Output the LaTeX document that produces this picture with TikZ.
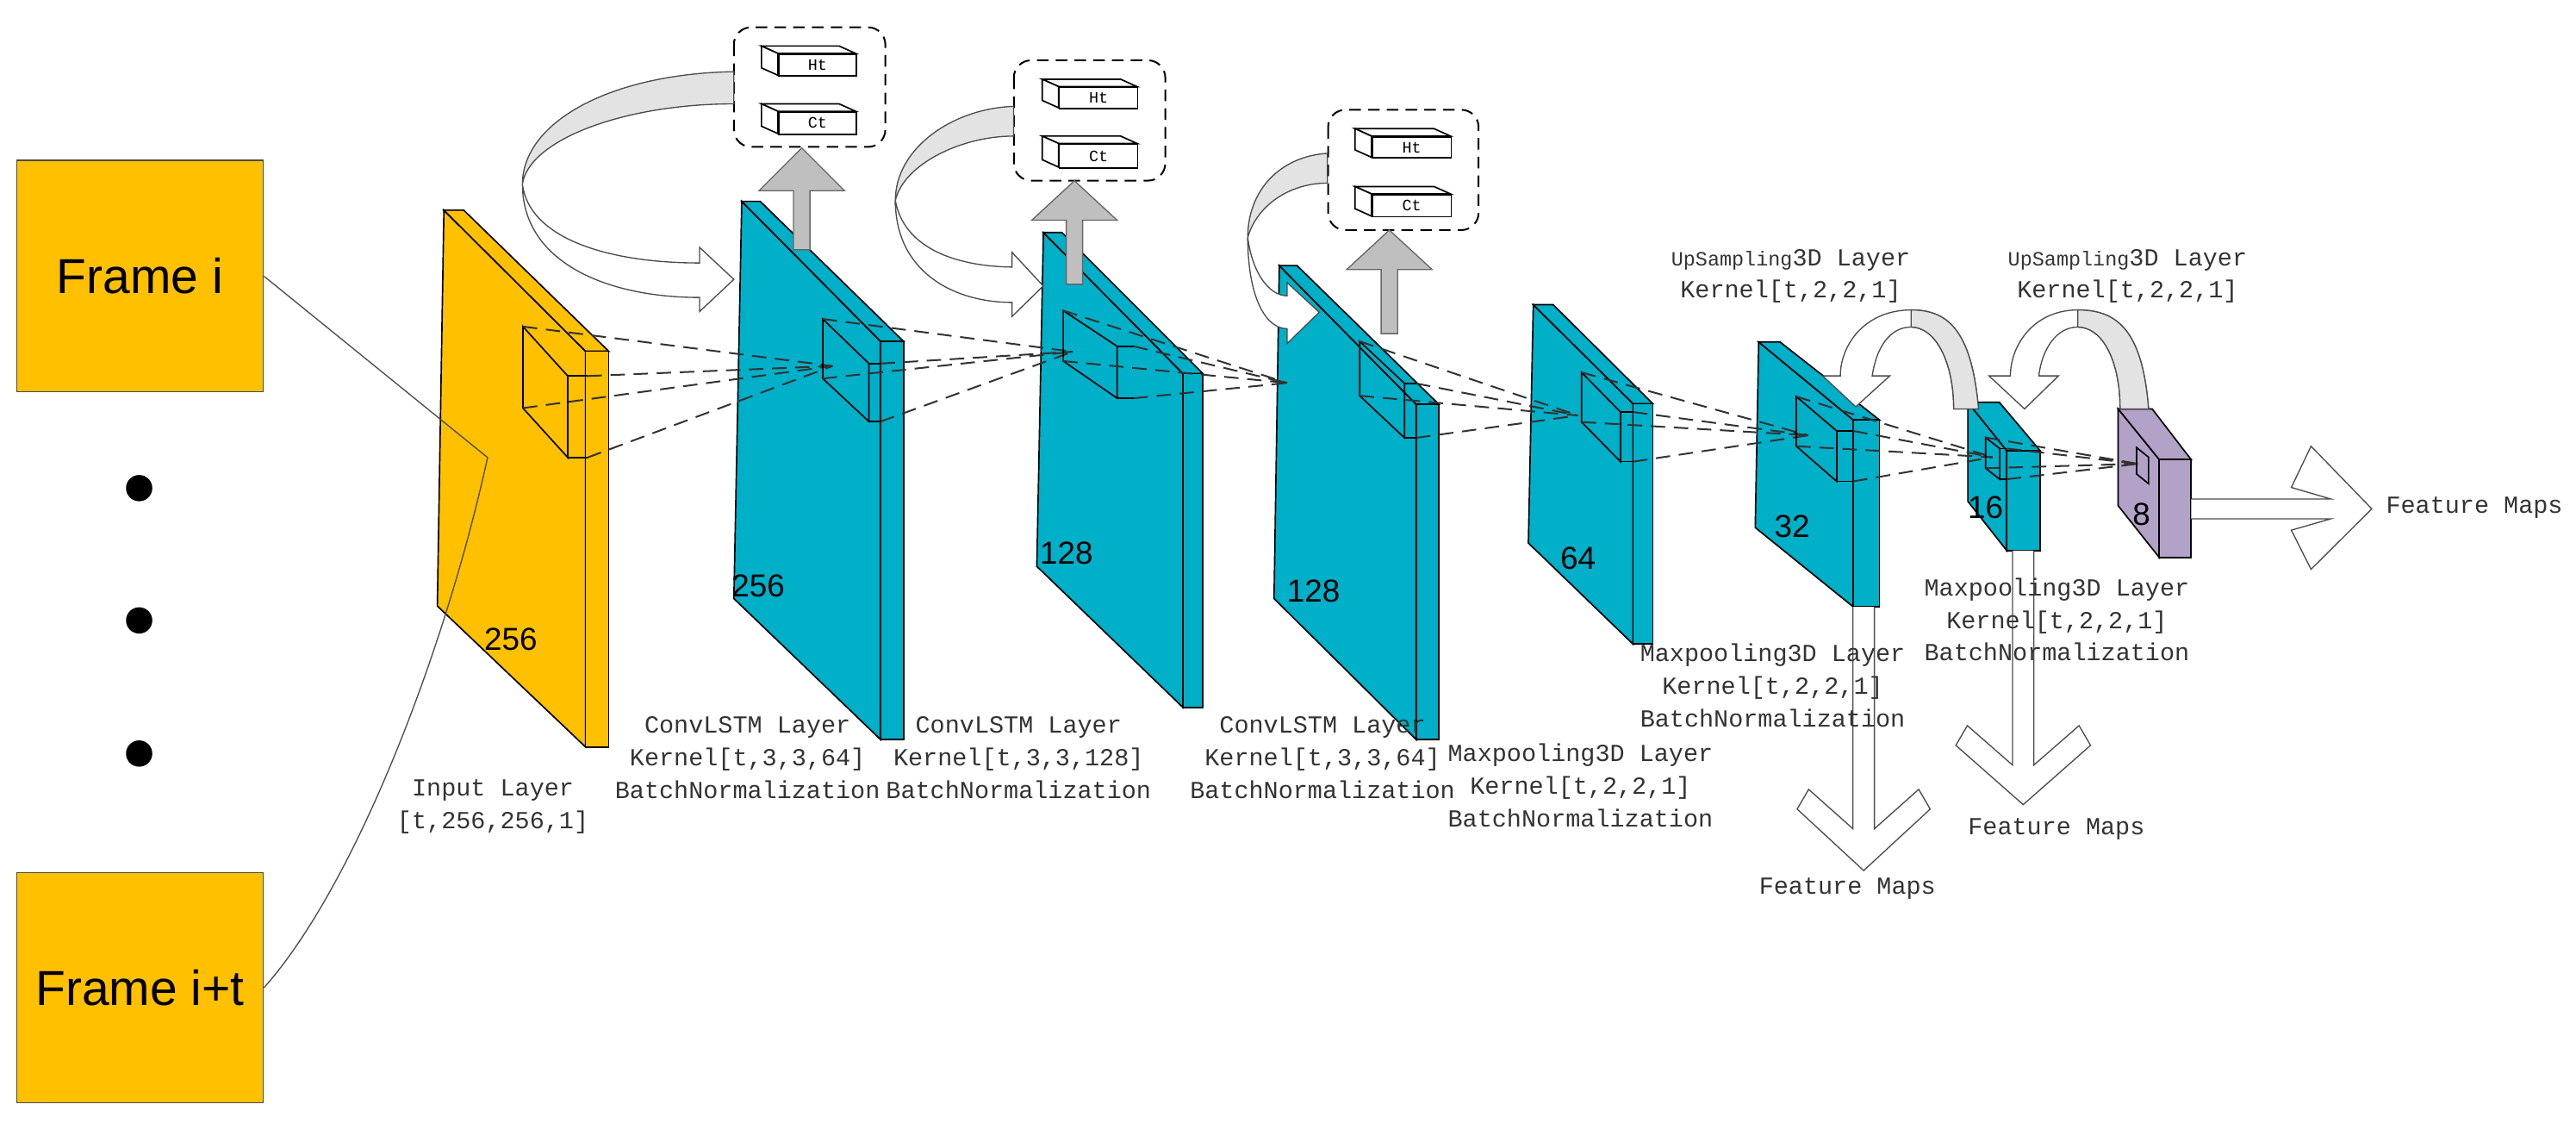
\documentclass[tikz,border=0pt]{standalone}
\usepackage{fontspec}
\setmainfont{Liberation Sans}
\newfontfamily\lblfont{Liberation Mono}
\definecolor{orng}{HTML}{FFC000}
\definecolor{teal}{HTML}{00AFC8}
\definecolor{purp}{HTML}{B3A2C7}
\definecolor{ribgray}{HTML}{E3E3E3}
\begin{document}
\begin{tikzpicture}[x=0.02cm,y=-0.02cm,line join=miter,
  slabline/.style={draw=black,line width=0.5pt},
  dashl/.style={dashed,dash pattern=on 5pt off 3pt,line width=0.6pt,black!80},
  lbl/.style={font=\fontsize{8.5}{11.3}\lblfont,text=black!80,align=center,inner sep=0pt},
  num/.style={font=\fontsize{11}{12}\selectfont,inner sep=0pt},
  frame/.style={draw=black!70,fill=orng,line width=0.5pt},
  ribbon/.style={draw=black!70,line width=0.4pt,fill=white},
  ribg/.style={draw=black!70,line width=0.4pt,fill=ribgray},
  uparr/.style={draw=black!60,fill=black!25,line width=0.4pt},
  cellbox/.style={draw=black,line width=0.5pt,fill=white}]
\useasboundingbox (0,0) rectangle (1568,683);

\newcommand\lslab[9]{%
  \filldraw[slabline,fill=#1] (#2,#3) -- (#5,#7) -- (#5,#8) -- (#9) -- cycle;
  \filldraw[slabline,fill=#1] (#2,#3) -- (#4,#3) -- (#6,#7) -- (#5,#7) -- cycle;
  \filldraw[slabline,fill=#1] (#5,#7) -- (#6,#7) -- (#6,#8) -- (#5,#8) -- cycle;}
\newcommand\rfb[8]{%
  \draw[slabline] (#1,#2) -- (#3,#4) -- (#3,#5) -- (#1,#6) -- cycle;
  \draw[slabline] (#3,#4) -- (#7,#4) (#3,#5) -- (#7,#5);
  \draw[dashl] (#1,#2) -- (#8) (#7,#4) -- (#8) (#7,#5) -- (#8) (#1,#6) -- (#8);}
\newcommand\upar[6]{%
  \filldraw[uparr] (#1-#5,#2) -- (#1-#5,#4) -- (#1-#6,#4) -- (#1,#3) -- (#1+#6,#4) -- (#1+#5,#4) -- (#1+#5,#2) -- cycle;}
\newcommand\cell[5]{%
  \filldraw[cellbox] (#1,#2) -- (#1-10,#2-4.5) -- (#3-10,#2-4.5) -- (#3,#2) -- cycle;
  \filldraw[cellbox] (#1,#2) -- (#1-10,#2-4.5) -- (#1-10,#4-4.5) -- (#1,#4) -- cycle;
  \node[cellbox,minimum width=0.02cm*(#3-#1),minimum height=0.02cm*(#4-#2),inner sep=0pt,anchor=north west,font=\fontsize{5.5}{6}\lblfont] (#5) at (#1,#2) {\ifx#5h Ht\else Ct\fi};}
\newcommand\downar[6]{%
  \filldraw[ribbon] (#1-#5,#2) -- (#1-#5,#3) -- (#1-#6+7,#3-24) -- (#1-#6,#3-12) -- (#1,#4) -- (#1+#6,#3-12) -- (#1+#6-7,#3-24) -- (#1+#5,#3) -- (#1+#5,#2);}

% frames
\node[frame,minimum width=3.0cm,minimum height=2.816cm,anchor=north west,font=\fontsize{17}{20}\selectfont] (fi) at (9.8,97.2) {Frame i};
\node[frame,minimum width=3.0cm,minimum height=2.8cm,anchor=north west,font=\fontsize{17}{20}\selectfont] (fit) at (9.8,530.6) {Frame i+t};
\foreach \yy in {297,377.5,458.5} \fill (84.7,\yy) circle (8);

% slabs
\lslab{orng}{270.2}{127.9}{282.3}{356.4}{370.5}{213.7}{454.5}{266.2,368.7}
\lslab{teal}{451.5}{122.5}{462.7}{536}{550}{207.7}{450}{446.7,364.2}
\lslab{teal}{635.1}{141.5}{646.4}{720}{732.2}{227.3}{430.4}{631.1,344.6}
\lslab{teal}{778.7}{161.6}{789.5}{862}{875.8}{246}{450}{775.5,364.2}
\lslab{teal}{933.3}{185.4}{945.4}{994}{1006}{245.6}{391.9}{930.3,330.4}
\lslab{teal}{1070.5}{208.1}{1083.5}{1128}{1144}{255.5}{369.2}{1068.4,321}
\lslab{teal}{1197.8}{244.8}{1217}{1221.5}{1241.8}{274.2}{335}{1197.8,305}
\lslab{purp}{1289.3}{248.8}{1310}{1314.3}{1333.7}{279.6}{339.2}{1289.3,307.7}

\node[num] (n0) at (310.9,389) {256};
\node[num] (n1) at (461.5,356.7) {256};
\node[num] (n2) at (649.2,336.5) {128};
\node[num] (n3) at (799.5,359.7) {128};
\node[num] (n4) at (960.5,339.8) {64};
\node[num] (n5) at (1090.8,320.5) {32};
\node[num] (n6) at (1208.6,309) {16};
\node[num] (n7) at (1303.5,313) {8};

% frame connectors
\coordinate (join) at (296.8,278.4);
\draw[black!70,line width=0.4pt] (fi.east) -- (join);
\draw[black!70,line width=0.4pt] (fit.east) .. controls (215,540) and (270,400) .. (join);

% receptive-field boxes and dashed projections
\coordinate (t1) at (506.8,222.7);
\coordinate (t2) at (653,214);
\coordinate (t3) at (783.5,233);
\coordinate (t4) at (960.5,252.8);
\coordinate (t5) at (1100.7,264.9);
\coordinate (t6) at (1212.9,278.2);
\coordinate (t7) at (1301.3,282.2);
\rfb{318.3}{198.7}{345.6}{228.8}{278.4}{248.3}{357.6}{t1}
\rfb{500.8}{194.1}{528.9}{221.2}{256.5}{230.3}{536}{t2}
\rfb{647.2}{189}{680}{210.7}{242.3}{219.7}{690}{t3}
\rfb{827.6}{207.7}{854.9}{233.3}{266.4}{240.8}{862}{t4}
\rfb{962.7}{226.6}{986.4}{250.7}{280.9}{256.8}{994}{t5}
\rfb{1093.4}{241.3}{1118}{262.2}{292.9}{271.5}{1128}{t6}
\rfb{1208.6}{266.2}{1217.2}{272.9}{291.6}{284.9}{1221.5}{t7}
\draw[slabline] (1300.5,272.3) -- (1307.8,278.2) -- (1307.8,294.3) -- (1300.5,288.4) -- cycle;

% state boxes
\draw[dashed,dash pattern=on 4pt off 2.5pt,rounded corners=6pt,line width=0.6pt] (446.7,16.6) rectangle (538.9,89.4);
\draw[dashed,dash pattern=on 4pt off 2.5pt,rounded corners=6pt,line width=0.6pt] (617.1,36.7) rectangle (709.3,109.9);
\draw[dashed,dash pattern=on 4pt off 2.5pt,rounded corners=6pt,line width=0.6pt] (808.4,66.8) rectangle (900,140);
\cell{473.5}{32.5}{520.8}{45.8}{h}
\cell{473.5}{67.7}{520.8}{81.3}{c}
\cell{644.4}{52.7}{692.1}{65.6}{h}
\cell{644.4}{87.3}{692.1}{101.7}{c}
\cell{834.8}{82.8}{882.9}{95.7}{h}
\cell{834.8}{118}{882.9}{131.5}{c}

% gray up arrows
\upar{488}{152}{90}{116}{5}{26}
\upar{654}{173}{110}{134}{5}{26}
\upar{845.7}{203}{140}{164}{5}{26}

% recurrent ribbon arrows
\filldraw[ribg] (446.7,43.6) .. controls (370,45) and (318,75) .. (318,112) .. controls (322,85) and (380,63.2) .. (446.7,63.2) -- cycle;
\filldraw[ribbon] (318,112) .. controls (318,160) and (370,181) .. (425.8,181) -- (425.8,189.6) -- (446.7,170) -- (425.8,150.5) -- (425.8,160) .. controls (370,160) and (322,145) .. (318,112) -- cycle;
\filldraw[ribg] (617,64.7) .. controls (580,66) and (545,90) .. (545,122) .. controls (550,100) and (585,82.8) .. (617,82.8) -- cycle;
\filldraw[ribbon] (545,122) .. controls (545,165) and (580,184) .. (616,184) -- (616,192.6) -- (635,174) -- (616,153.5) -- (616,162.5) .. controls (580,162) and (550,150) .. (545,122) -- cycle;
\filldraw[ribg] (808,93.3) .. controls (780,95) and (759.5,115) .. (759.5,144.5) .. controls (765,125) and (785,111.4) .. (808,111.4) -- cycle;
\filldraw[ribbon] (759.5,144.5) .. controls (759.5,180) and (770,200) .. (783.5,200) -- (783.5,209) -- (803,190) -- (783.5,172) -- (783.5,180) .. controls (772,180) and (762,165) .. (759.5,144.5) -- cycle;

% upsampling arrows
\filldraw[ribbon] (1204.3,248.8) .. controls (1200,200) and (1185,188.6) .. (1163.3,188.6) .. controls (1135,188.6) and (1120.2,210) .. (1120.2,228.7) -- (1109.4,228.7) -- (1129.6,247.5) -- (1150.3,228.7) -- (1139.6,228.7) .. controls (1142,212) and (1150,199) .. (1163.3,199) .. controls (1178,199) and (1189.2,220) .. (1189.2,248.8) -- cycle;
\filldraw[ribg] (1163.3,188.6) .. controls (1185,188.6) and (1200,200) .. (1204.3,248.8) -- (1189.2,248.8) .. controls (1189.2,220) and (1178,199) .. (1163.3,199) -- cycle;
\filldraw[ribbon] (1307.8,248.8) .. controls (1304,200) and (1288,188.6) .. (1264.7,188.6) .. controls (1238,188.6) and (1223.7,210) .. (1223.7,228.7) -- (1210.7,228.7) -- (1232.3,248.8) -- (1253,228.7) -- (1241,228.7) .. controls (1243,212) and (1252,199) .. (1264.7,199) .. controls (1280,199) and (1290.5,220) .. (1290.5,248.8) -- cycle;
\filldraw[ribg] (1264.7,188.6) .. controls (1288,188.6) and (1304,200) .. (1307.8,248.8) -- (1290.5,248.8) .. controls (1290.5,220) and (1280,199) .. (1264.7,199) -- cycle;

% feature map arrows
\downar{1134.4}{369.2}{504.3}{529.7}{6.5}{40.5}
\downar{1231.5}{335}{465.5}{489.6}{6.5}{41}
\filldraw[ribbon] (1333.7,303.6) -- (1418.7,303.6) -- (1394.7,296.6) -- (1406.7,271.5) -- (1443.7,309.6) -- (1406.7,346.4) -- (1394.7,322.6) -- (1418.7,315.7) -- (1333.7,315.7);

% labels
\node[lbl] (l0) at (300,491) {Input Layer\\{[t,256,256,1]}};
\node[lbl] (l1) at (455,461) {ConvLSTM Layer\\Kernel{[t,3,3,64]}\\BatchNormalization};
\node[lbl] (l2) at (620,461) {ConvLSTM Layer\\Kernel{[t,3,3,128]}\\BatchNormalization};
\node[lbl] (l3) at (805,461) {ConvLSTM Layer\\Kernel{[t,3,3,64]}\\BatchNormalization};
\node[lbl] (l4) at (962,478) {Maxpooling3D Layer\\Kernel{[t,2,2,1]}\\BatchNormalization};
\node[lbl] (l5) at (1079,417) {Maxpooling3D Layer\\Kernel{[t,2,2,1]}\\BatchNormalization};
\node[lbl] (l6) at (1252,377) {Maxpooling3D Layer\\Kernel{[t,2,2,1]}\\BatchNormalization};
\node[lbl] (u1) at (1090,168) {{\fontsize{7}{8}\selectfont UpSampling}3D Layer\\Kernel{[t,2,2,1]}};
\node[lbl] (u2) at (1295,168) {{\fontsize{7}{8}\selectfont UpSampling}3D Layer\\Kernel{[t,2,2,1]}};
\node[lbl] (f1) at (1124.5,540.4) {Feature Maps};
\node[lbl] (f2) at (1251.7,504.3) {Feature Maps};
\node[lbl,anchor=west] (f3) at (1452,309) {Feature Maps};
\end{tikzpicture}
\end{document}
